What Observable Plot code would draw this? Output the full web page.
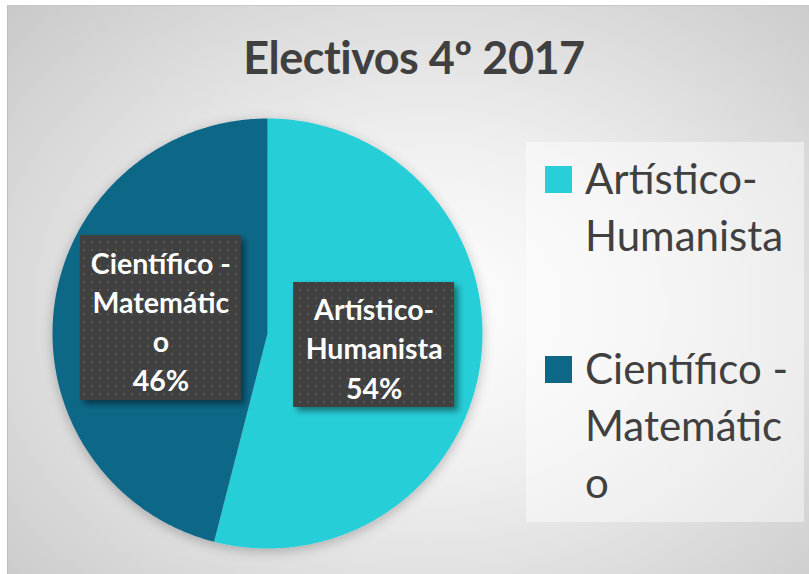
<!DOCTYPE html>
<html>
<head>
<meta charset="utf-8">
<script src="https://cdn.jsdelivr.net/npm/d3@7"></script>
<script src="https://cdn.jsdelivr.net/npm/@observablehq/plot@0.6"></script>
<style>
  html, body { margin: 0; padding: 0; background: #fff; }
  #chart {
    position: absolute; left: 7px; top: 5px; width: 810px; height: 580px;
    background: radial-gradient(ellipse 75% 80% at 52% 52%, #ffffff 0%, #f0f0f0 35%, #d6d6d6 75%, #c6c6c6 100%);
    border-left: 1px solid #bdbdbd; border-top: 1px solid #c8c8c8;
    overflow: hidden;
  }
  #title {
    position: absolute; left: 0; top: 24px; width: 812px; text-align: center;
    font-family: Lato, "Open Sans", sans-serif; font-weight: bold; font-size: 45px;
    color: #404040; letter-spacing: -0.5px;
  }
  #legend {
    position: absolute; left: 518px; top: 136px; width: 278px; height: 380px;
    background: rgba(255,255,255,0.45);
    font-family: Lato, "Open Sans", sans-serif; font-size: 42px; color: #404040;
  }
  .item { position: absolute; left: 19px; }
  .sw { position: absolute; left: 0; top: 16px; width: 27px; height: 27px; }
  .lab { position: absolute; left: 40px; top: 0; line-height: 57px; white-space: pre; }
  svg { position: absolute; left: 0; top: 0; }
</style>
</head>
<body>
<div id="chart"><div id="title"></div><div id="legend"></div></div>
<script>
// ---- data ----
const titleText = "Electivos 4º 2017";
const categories = ["Artístico-Humanista", "Científico - Matemático"];
const values = [54, 46];
const colors = ["#28CED8", "#0F6787"];
// wrapped text as displayed in the reference
const legendLines = [["Artístico-", "Humanista"], ["Científico -", "Matemátic", "o"]];
const labelLines = [["Artístico-", "Humanista"], ["Científico -", "Matemátic", "o"]];

document.getElementById("title").textContent = titleText;

// legend
const legend = document.getElementById("legend");
const itemTops = [8, 198];
categories.forEach((c, i) => {
  const it = document.createElement("div");
  it.className = "item"; it.style.top = itemTops[i] + "px";
  const sw = document.createElement("div"); sw.className = "sw"; sw.style.background = colors[i];
  const lb = document.createElement("div"); lb.className = "lab"; lb.textContent = legendLines[i].join("\n");
  it.appendChild(sw); it.appendChild(lb); legend.appendChild(it);
});

// pie geometry from data
const total = d3.sum(values);
const pie = d3.pie().sort(null).value(d => d)(values);
const slices = [];
pie.forEach((p, i) => {
  const n = 240;
  slices.push({cat: categories[i], x: 0, y: 0});
  for (let k = 0; k <= n; k++) {
    const a = p.startAngle + (p.endAngle - p.startAngle) * k / n;
    slices.push({cat: categories[i], x: Math.sin(a), y: Math.cos(a)});
  }
});
const labels = pie.map((p, i) => {
  const a = (p.startAngle + p.endAngle) / 2;
  const pct = Math.round(values[i] / total * 100) + "%";
  return {cat: categories[i], x: 0.5 * Math.sin(a), y: 0.5 * Math.cos(a),
          text: labelLines[i].concat([pct]).join("\n"), n: labelLines[i].length + 1};
});

const cx = 259, cy = 327, r = 215;
const plot = Plot.plot({
  width: 810, height: 580,
  margin: 0,
  style: {background: "transparent", overflow: "visible"},
  x: {domain: [-1, 1], range: [cx - r, cx + r], axis: null},
  y: {domain: [-1, 1], range: [cy + r, cy - r], axis: null},
  color: {domain: categories, range: colors},
  marks: [
    Plot.line(slices, {x: "x", y: "y", z: "cat", fill: "cat", stroke: "none", curve: "linear",
      render(index, scales, values, dims, ctx, next) {
        const g = next(index, scales, values, dims, ctx);
        g.setAttribute("filter", "url(#pieShadow)");
        return g;
      }}),
    Plot.text(labels, {x: "x", y: "y", text: "text", fill: "white", fontWeight: "bold",
      fontSize: 28.5, lineHeight: 1.37,
      fontFamily: "Lato, 'Open Sans', sans-serif",
      render(index, scales, values, dims, ctx, next) {
        const g = next(index, scales, values, dims, ctx);
        const ns = "http://www.w3.org/2000/svg";
        const wrap = document.createElementNS(ns, "g");
        index.forEach(i => {
          const x = values.x[i], y = values.y[i];
          const n = labels[i].n;
          const h = n === 4 ? 165 : 125, w = 161;
          const rect = document.createElementNS(ns, "rect");
          rect.setAttribute("x", x - w / 2); rect.setAttribute("y", y - h / 2 - 2);
          rect.setAttribute("width", w); rect.setAttribute("height", h);
          rect.setAttribute("fill", "url(#dots)");
          rect.setAttribute("filter", "url(#boxShadow)");
          wrap.appendChild(rect);
        });
        wrap.appendChild(g);
        return wrap;
      }})
  ]
});

// defs: dot pattern and shadows
const ns = "http://www.w3.org/2000/svg";
const defs = document.createElementNS(ns, "defs");
defs.innerHTML = `
  <pattern id="dots" width="8" height="8" patternUnits="userSpaceOnUse">
    <rect width="8" height="8" fill="#404040"/>
    <rect x="3" y="3" width="2" height="2" fill="#565656"/>
  </pattern>
  <filter id="boxShadow" x="-20%" y="-20%" width="150%" height="150%">
    <feDropShadow dx="4" dy="4" stdDeviation="3" flood-color="#000" flood-opacity="0.45"/>
  </filter>
  <filter id="pieShadow" x="-20%" y="-20%" width="140%" height="140%">
    <feDropShadow dx="0" dy="3" stdDeviation="6" flood-color="#000" flood-opacity="0.25"/>
  </filter>`;
plot.insertBefore(defs, plot.firstChild);
plot.querySelectorAll("text").forEach(t => t.setAttribute("paint-order", "normal"));
document.getElementById("chart").appendChild(plot);
</script>
</body>
</html>
